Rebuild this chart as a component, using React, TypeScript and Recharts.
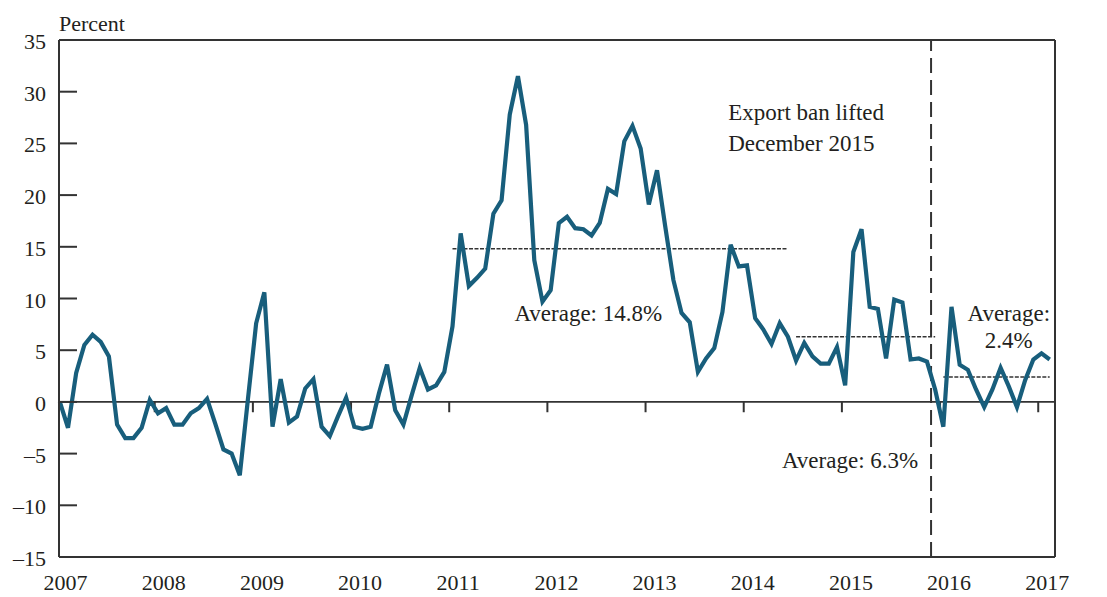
import React from 'react';
import { LineChart, Line, XAxis, YAxis, ReferenceLine, ReferenceDot } from 'recharts';

// Monthly values, Jan 2007 (index 0) through Feb 2017 (index 121), percent
const growth = [
  0.0, -2.5, 2.8, 5.5, 6.5, 5.8, 4.4, -2.2, -3.5, -3.5, -2.5, 0.2,
  -1.1, -0.6, -2.2, -2.2, -1.1, -0.6, 0.3, -2.1, -4.6, -5.0, -7.1, 0.3,
  7.6, 10.6, -2.4, 2.2, -2.0, -1.4, 1.3, 2.2, -2.4, -3.3, -1.4, 0.4,
  -2.4, -2.6, -2.4, 0.8, 3.6, -0.8, -2.2, 0.6, 3.3, 1.2, 1.6, 2.9,
  7.3, 16.3, 11.2, 12.0, 12.9, 18.2, 19.5, 27.8, 31.5, 26.8, 13.7, 9.7,
  10.8, 17.3, 17.9, 16.8, 16.7, 16.1, 17.3, 20.6, 20.1, 25.2, 26.7, 24.5,
  19.1, 22.4, 17.0, 11.8, 8.6, 7.7, 2.9, 4.2, 5.2, 8.7, 15.2, 13.1,
  13.2, 8.1, 7.0, 5.6, 7.6, 6.3, 4.0, 5.7, 4.4, 3.7, 3.7, 5.3,
  1.6, 14.5, 16.7, 9.2, 9.0, 4.2, 9.9, 9.6, 4.1, 4.2, 3.9, 1.2,
  -2.4, 9.2, 3.6, 3.1, 1.2, -0.5, 1.2, 3.3, 1.5, -0.5, 2.1, 4.1,
  4.7, 4.1,
];

const yearLabels = ['2007', '2008', '2009', '2010', '2011', '2012', '2013', '2014', '2015', '2016', '2017'];
const yTicks = [-15, -10, -5, 0, 5, 10, 15, 20, 25, 30, 35];

const avgValues = [14.8, 6.3, 2.4];
const avgStarts = [48, 90, 108];
const avgEnds = [89, 107, 121];

const banIndex = 106.5;
const banText = ['Export ban lifted', 'December 2015'];

const data = growth.map((v, i) => ({ m: i, v }));

const FONT = "'Liberation Serif', 'Times New Roman', serif";
const TEXT = '#231f20';
const AXIS = '#333333';
const SERIES = '#185e7c';

const fmt = (v: number) => (v < 0 ? '\u2013' + Math.abs(v) : String(v));

const LeftTick = (props: any) => {
  const { x, y, payload } = props;
  const v = payload.value;
  return (
    <g>
      <line x1={x} x2={x + 18} y1={y} y2={y} stroke={AXIS} strokeWidth={2} />
      <text x={x - 13} y={y + 9} textAnchor="end" fontSize={22} fill={TEXT} fontFamily={FONT}>
        {fmt(v)}
      </text>
      {v === 35 && (
        <text x={x} y={y - 9} textAnchor="start" fontSize={22} fill={TEXT} fontFamily={FONT}>
          Percent
        </text>
      )}
    </g>
  );
};

const RightTick = (props: any) => {
  const { x, y, payload } = props;
  const v = payload.value;
  return (
    <g>
      <line x1={x - 18} x2={x} y1={y} y2={y} stroke={AXIS} strokeWidth={2} />
      {v < 0 && (
        <text x={x + 22} y={y + 8} textAnchor="end" fontSize={22} fill={TEXT} fontFamily={FONT}>
          {'\u2013'}
        </text>
      )}
      <text x={x + 23} y={y + 8} textAnchor="start" fontSize={22} fill={TEXT} fontFamily={FONT}>
        {Math.abs(v)}
      </text>
      {v === 35 && (
        <text x={x + 2} y={y - 9} textAnchor="end" fontSize={22} fill={TEXT} fontFamily={FONT}>
          Percent
        </text>
      )}
    </g>
  );
};

const BottomTick = (props: any) => {
  const { x, y, index } = props;
  return (
    <text x={x} y={y + 33} textAnchor="middle" fontSize={22} fill={TEXT} fontFamily={FONT}>
      {yearLabels[index]}
    </text>
  );
};

const multiLabel = (lines: string[], anchor: 'start' | 'middle', gap: number, size: number) => (p: any) => {
  const vb = p.viewBox || {};
  const cx = (vb.x ?? 0) + (vb.width ?? 0) / 2;
  const cy = (vb.y ?? 0) + (vb.height ?? 0) / 2;
  return (
    <g>
      {lines.map((t, i) => (
        <text key={i} x={cx} y={cy + i * gap} textAnchor={anchor} fontSize={size} fill={TEXT} fontFamily={FONT}>
          {t}
        </text>
      ))}
    </g>
  );
};

export default function App() {
  const yearTickPos = yearLabels.map((_, k) => k * 12 + 0.7);
  const zeroTickPos = yearLabels.slice(1).map((_, k) => (k + 1) * 12 - 0.4);
  return (
    <div style={{ position: 'absolute', left: 0, top: 0, width: 1107, height: 597, background: '#fff' }}>
      <LineChart width={1107} height={597} data={data} margin={{ top: 40, right: 0, bottom: 0, left: 0 }}>
        <XAxis
          dataKey="m"
          type="number"
          domain={[-0.1, 121.65]}
          ticks={yearTickPos}
          interval={0}
          tickSize={0}
          tickMargin={0}
          tickLine={false}
          axisLine={{ stroke: AXIS, strokeWidth: 2 }}
          tick={<BottomTick />}
          height={40}
        />
        <YAxis
          yAxisId="left"
          domain={[-15, 35]}
          ticks={yTicks}
          interval={0}
          tickSize={0}
          tickMargin={0}
          tickLine={false}
          axisLine={{ stroke: AXIS, strokeWidth: 2 }}
          tick={<LeftTick />}
          width={59}
        />
        <YAxis
          yAxisId="right"
          orientation="right"
          domain={[-15, 35]}
          ticks={yTicks}
          interval={0}
          tickSize={0}
          tickMargin={0}
          tickLine={false}
          axisLine={{ stroke: AXIS, strokeWidth: 2 }}
          tick={<RightTick />}
          width={52}
        />
        <ReferenceLine yAxisId="left" y={35} stroke={AXIS} strokeWidth={2} />
        <ReferenceLine yAxisId="left" y={0} stroke={AXIS} strokeWidth={1.8} />
        {zeroTickPos.map((t, i) => (
          <ReferenceLine
            key={'zt' + i}
            yAxisId="left"
            segment={[{ x: t, y: 0 }, { x: t, y: -1 }]}
            stroke={AXIS}
            strokeWidth={2}
          />
        ))}
        <ReferenceLine yAxisId="left" x={banIndex} stroke={AXIS} strokeWidth={2} strokeDasharray="15 7" />
        {avgValues.map((v, i) => (
          <ReferenceLine
            key={'avg' + i}
            yAxisId="left"
            segment={[{ x: avgStarts[i], y: v }, { x: avgEnds[i], y: v }]}
            stroke={AXIS}
            strokeWidth={1.5}
            strokeDasharray="4 1.5"
          />
        ))}
        <Line
          yAxisId="left"
          dataKey="v"
          type="linear"
          stroke={SERIES}
          strokeWidth={4.2}
          dot={false}
          activeDot={false}
          isAnimationActive={false}
        />
        <ReferenceDot yAxisId="left" x={81.7} y={27.27} r={1} fill="none" stroke="none" ifOverflow="visible"
          label={multiLabel(banText, 'start', 31, 23)} />
        <ReferenceDot yAxisId="left" x={64.6} y={7.83} r={1} fill="none" stroke="none" ifOverflow="visible"
          label={multiLabel(['Average: ' + avgValues[0] + '%'], 'middle', 0, 23)} />
        <ReferenceDot yAxisId="left" x={96.6} y={-6.38} r={1} fill="none" stroke="none" ifOverflow="visible"
          label={multiLabel(['Average: ' + avgValues[1] + '%'], 'middle', 0, 23)} />
        <ReferenceDot yAxisId="left" x={116.0} y={7.83} r={1} fill="none" stroke="none" ifOverflow="visible"
          label={multiLabel(['Average:', avgValues[2] + '%'], 'middle', 27, 23)} />
      </LineChart>
    </div>
  );
}
